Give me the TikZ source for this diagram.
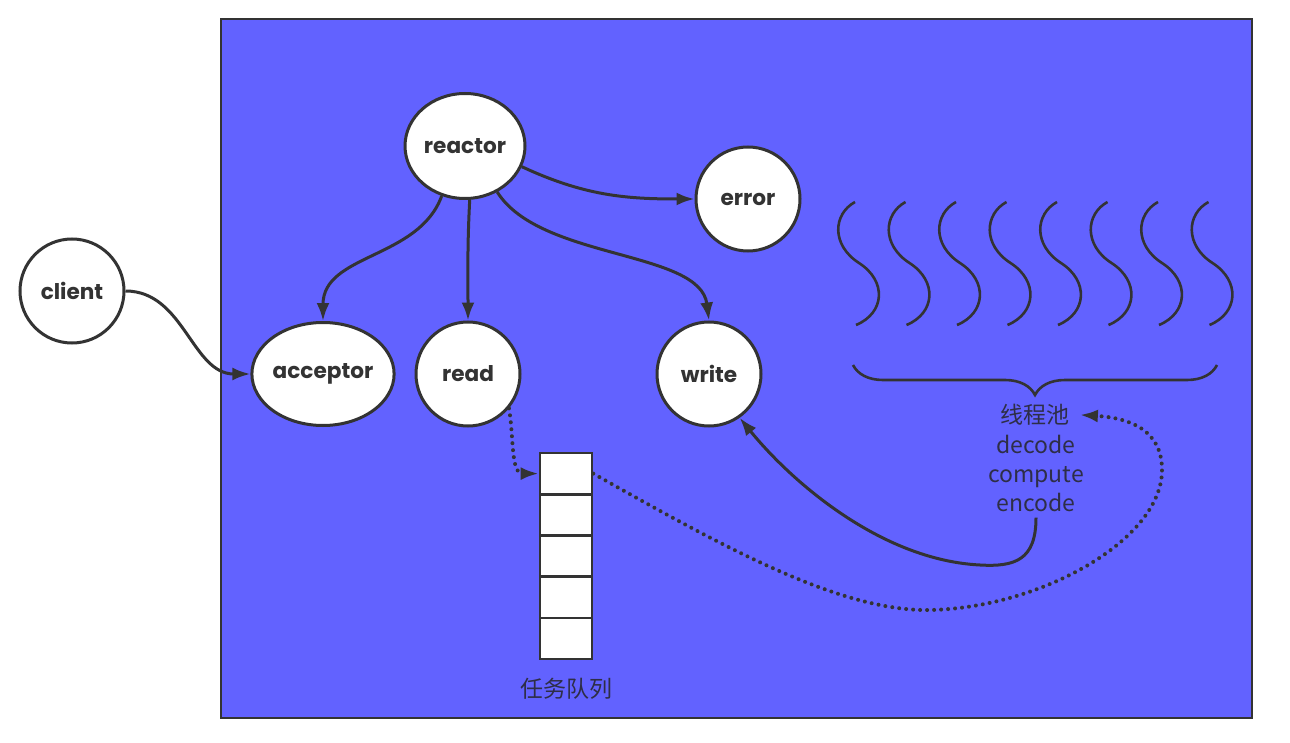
\documentclass[tikz,border=0pt]{standalone}
\usepackage{fontspec}
\usetikzlibrary{shapes.geometric,arrows.meta,decorations.pathreplacing}
\newfontfamily\cjk{Noto Sans CJK SC}
\newfontfamily\comic{Poppins}
\definecolor{panel}{RGB}{98,98,255}
\definecolor{ink}{RGB}{51,51,51}

\begin{document}
\begin{tikzpicture}[x=0.5pt, y=-0.5pt,
    state/.style ={ellipse, draw=ink, line width=1.5pt, fill=white, inner sep=0pt,
      minimum width=52pt, minimum height=52pt, text=ink,
      font=\comic\bfseries\fontsize{10.8}{12}\selectfont},
    cell/.style ={rectangle, draw=ink, line width=1.3pt, fill=white, inner sep=0pt,
      minimum width=26pt, minimum height=20.6pt},
    caption/.style ={inner sep=0pt, anchor=base, text=ink!90!blue, font=\cjk\fontsize{11.5}{14}\selectfont},
    link/.style ={draw=ink, line width=1.5pt, -{Latex[length=9pt,width=6.5pt]}},
    hint/.style ={link, line width=2pt, dash pattern=on 0pt off 3.5pt, line cap=round}]
   \useasboundingbox[fill=white] (0,0) rectangle (1290,743);
   \draw[ink, line width=1pt, fill=panel] (221,19) rectangle (1252,718);

   \node[state, minimum width=60pt, minimum height=52.5pt] (reactor) at (465,146) {reactor};
   \node[state] (error) at (748,199) {error};
   \node[state] (client) at (72,291) {client};
   \node[state, minimum width=65.5pt, minimum height=51.5pt] (acceptor) at (323,374) {acceptor};
   \node[state] (read) at (468,374) {read};
   \node[state] (write) at (709,374) {write};

   % task queue
   \foreach \i in {1,...,5}
     \node[cell] (q\i) at (566,{453+41.2*(\i-0.5)}) {};
   \node[caption] (queue) at (566,697) {任务队列};

   % thread pool
   \foreach \k in {0,...,7} {
     \pgfmathsetmacro\wx{855+50.5*\k}
     \draw[ink, line width=1.3pt] (\wx,202) .. controls (\wx-22,214) and (\wx-24,245) .. (\wx+4,263)
       .. controls (\wx+32,281) and (\wx+30,313) .. (\wx+1,325);
   }
   \draw[ink, line width=1.3pt, decorate, decoration={brace, amplitude=15pt, mirror}] (853,365) -- (1217,365);
   \node[caption] (pool) at (1035,423) {线程池};
   \node[caption] (decode) at (1036,453) {decode};
   \node[caption] (compute) at (1036,482) {compute};
   \node[caption] (encode) at (1036,511) {encode};

   \draw[link] (client.east) to[out=0,in=180] (acceptor.west);
   \draw[link] (reactor.-115) to[out=-110,in=90] (acceptor.north);
   \draw[link] (reactor.-85) to[out=-93,in=90] (read.north);
   \draw[link] (reactor.-55) .. controls (540,260) and (700,250) .. (write.north);
   \draw[link] (reactor.-20) to[out=-25,in=180] (error.west);
   \draw[hint] (read.-40) to[out=-80,in=180] (q1.west);
   \draw[hint, shorten >=5pt] (q1.east) .. controls (720,545) and (840,612) .. (930,610)
     .. controls (1040,608) and (1162,540) .. (1162,470)
     .. controls (1162,430) and (1130,418) .. (pool.east);
   \draw[link, shorten <=3pt] (encode.south) .. controls (1036,560) and (1015,567) .. (980,565)
     .. controls (880,560) and (790,480) .. (write.-55);
\end{tikzpicture}
\end{document}
